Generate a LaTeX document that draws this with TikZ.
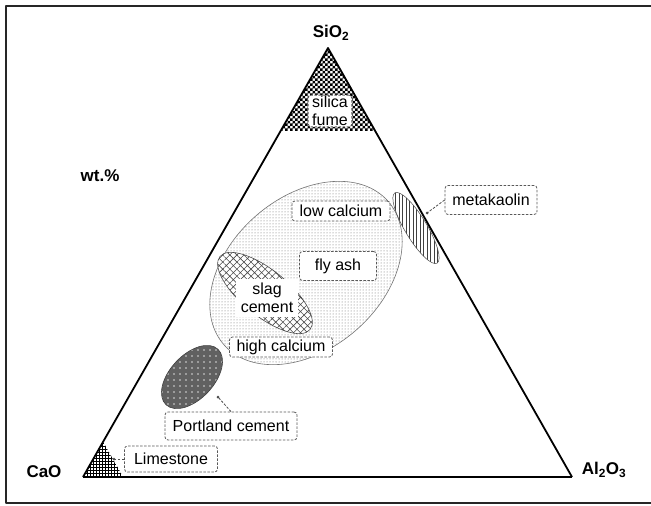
\documentclass[tikz,border=0pt]{standalone}
\usepackage{fontspec}
\setmainfont{Liberation Sans}
\usetikzlibrary{calc,patterns,patterns.meta}

% small checkerboard for the silica fume corner
\pgfdeclarepatternformonly{finechecker}{\pgfqpoint{-.1pt}{-.1pt}}{\pgfqpoint{5.1pt}{5.1pt}}{\pgfqpoint{5pt}{5pt}}{%
	\pgfpathrectangle{\pgfqpoint{0pt}{0pt}}{\pgfqpoint{2.6pt}{2.6pt}}%
	\pgfpathrectangle{\pgfqpoint{2.5pt}{2.5pt}}{\pgfqpoint{2.6pt}{2.6pt}}%
	\pgfusepath{fill}}

\begin{document}
\begin{tikzpicture}[x=1pt, y=-1pt, line join=round, font=\fontsize{16}{18}\selectfont,
	tag/.style={draw=black!65, line width=0.8pt, dash pattern=on 2.5pt off 1.5pt, rounded corners=3pt, fill=white, inner xsep=6pt, inner ysep=2pt, align=center},
	pointer/.style={draw=black!70, dash pattern=on 2.5pt off 1.5pt, line width=0.8pt},
	oxide/.style={font=\fontsize{17}{20}\selectfont\bfseries}]
	
	\useasboundingbox (0,0) rectangle (651,506);
	
	% Frame (open on the right)
	\draw[line width=1.4pt, black!85] (660,6) -- (6,6) -- (6,503) -- (660,503);
	
	% Corners of the triangle
	\def\kS{0.193} \def\kL{0.082}
	\coordinate (S) at (328,48);
	\coordinate (C) at (83,477);
	\coordinate (A) at (572,477);
	
	% Silica fume (top corner)
	\fill[pattern=finechecker] (S) -- ($(S)!\kS!(C)$) -- ($(S)!\kS!(A)$) -- cycle;
	
	% Limestone (left corner)
	\fill[pattern=grid] (C) -- ($(C)!\kL!(A)$) -- ($(C)!\kL!(S)$) -- cycle;
	
	% Fly ash
	\begin{scope}
		\clip[rotate around={41:(306,273)}] (306,273) ellipse (109 and 76);
		\fill[pattern=dots, pattern color=black!60] (190,160) rectangle (420,380);
	\end{scope}
	\draw[black!55, line width=0.6pt, rotate around={41:(306,273)}] (306,273) ellipse (109 and 76);
	
	% Slag cement
	\begin{scope}
		\clip[rotate around={-39:(265,293)}] (265,293) ellipse (58 and 23);
		\fill[white] (200,250) rectangle (330,340);
		\fill[pattern={Hatch[angle=45, distance=5pt, line width=0.6pt]}, pattern color=black!70] (200,250) rectangle (330,340);
	\end{scope}
	\draw[black!70, line width=0.6pt, rotate around={-39:(265,293)}] (265,293) ellipse (58 and 23);
	
	% Portland cement
	\begin{scope}
		\clip[rotate around={47:(192,377)}] (192,377) ellipse (38 and 22);
		\fill[black!62] (150,335) rectangle (235,420);
		\fill[pattern={Dots[distance=6pt, radius=0.8pt]}, pattern color=white!85!black] (150,335) rectangle (235,420);
	\end{scope}
	\draw[black!75, line width=0.6pt, rotate around={47:(192,377)}] (192,377) ellipse (38 and 22);
	
	% Metakaolin
	\begin{scope}
		\clip[rotate around={-59:(416,228)}] (416,228) ellipse (41 and 11);
		\fill[pattern={Lines[angle=90, distance=3.5pt, line width=0.6pt]}, pattern color=black!75] (380,180) rectangle (450,275);
	\end{scope}
	\draw[black!70, line width=0.5pt, rotate around={-59:(416,228)}] (416,228) ellipse (41 and 11);
	
	% Triangle
	\draw[line width=1.8pt] (C) -- (S) -- (A);
	\draw[line width=2.6pt] (C) -- (A);
	
	% Oxides
	\node[oxide] (SiO) at (331,33) {SiO\textsubscript{2}};
	\node[oxide] (CaO) at (44,472) {CaO};
	\node[oxide] (AlO) at (604,470) {Al\textsubscript{2}O\textsubscript{3}};
	\node[oxide] (wt) at (100,176) {wt.\%};
	
	% Materials
	\node[tag, inner xsep=4pt, inner ysep=1pt] (sf) at (330,111) {silica\\fume};
	\node[tag, minimum width=98pt, minimum height=20pt] (lowCa) at (341,211) {low calcium};
	\node[tag, minimum width=77pt, minimum height=29pt] (fa) at (338,266) {fly ash};
	\node[tag, minimum width=103pt, minimum height=20pt] (highCa) at (281,347) {high calcium};
	\node[fill=white, align=center, inner sep=2pt, minimum width=62pt, minimum height=38pt] (sc) at (267,298) {slag\\cement};
	\node[tag, minimum width=132pt, minimum height=28pt] (pc) at (231,426) {Portland cement};
	\node[tag, minimum width=93pt, minimum height=26pt] (ls) at (171,459) {Limestone};
	\node[tag, minimum width=92pt, minimum height=29pt] (mk) at (491,200) {metakaolin};
	
	% Pointers
	\coordinate (mkTip) at (427,213);
	\coordinate (pcTip) at (218,397);
	\coordinate (lsTip) at (114,459);
	\draw[pointer] (mk.west) -- (mkTip);
	\draw[pointer] (pc.north) -- (pcTip);
	\draw[pointer] (ls.west) -- (lsTip);
	\fill[black!70] (mkTip) circle (1.5);
	\fill[black!70] (pcTip) circle (1.5);
	\fill[black!70] (lsTip) circle (1.5);
	
\end{tikzpicture}
\end{document}
